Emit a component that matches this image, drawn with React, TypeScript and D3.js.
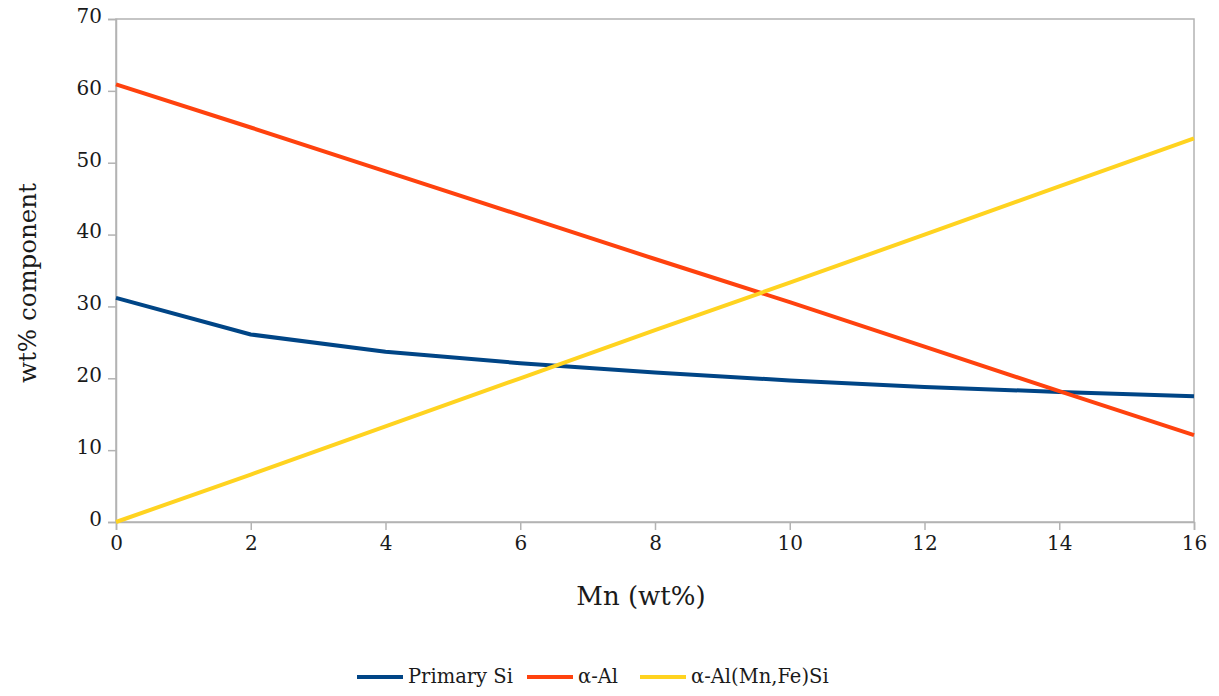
import React, { useEffect, useRef } from "react";
import * as d3 from "d3";

// Mn content (wt%) and resulting phase fractions (wt%)
const mnContent = [0, 2, 4, 6, 8, 10, 12, 14, 16];
const primarySi = [31.2, 26.1, 23.7, 22.1, 20.8, 19.7, 18.8, 18.1, 17.5];
const alphaAl = [60.9, 54.9, 48.8, 42.7, 36.6, 30.6, 24.4, 18.2, 12.1];
const alphaAlMnFeSi = [0, 6.6, 13.3, 20.0, 26.7, 33.3, 40.0, 46.7, 53.4];

const xTicks = [0, 2, 4, 6, 8, 10, 12, 14, 16];
const yTicks = [0, 10, 20, 30, 40, 50, 60, 70];

const seriesNames = ["Primary Si", "α-Al", "α-Al(Mn,Fe)Si"];
const seriesColors = ["#004586", "#ff420e", "#ffd320"];

const W = 1219;
const H = 696;
const FONT = "'DejaVu Serif', serif";
const TEXT = "#1a1a1a";

export default function App() {
  const ref = useRef<SVGSVGElement | null>(null);

  useEffect(() => {
    const svg = d3.select(ref.current);
    svg.selectAll("*").remove();

    const left = 116, right = 1194, top = 19, bottom = 522;
    const x = d3.scaleLinear().domain([0, 16]).range([left, right]);
    const y = d3.scaleLinear().domain([0, 70]).range([bottom, top]);
    const axisColor = "#b3b3b3";

    // plot frame
    svg.append("rect")
      .attr("x", left).attr("y", top)
      .attr("width", right - left).attr("height", bottom - top)
      .attr("fill", "none").attr("stroke", axisColor).attr("stroke-width", 1.5);

    // y axis
    const yAxis = svg.append("g").attr("transform", `translate(${left},0)`)
      .call(d3.axisLeft(y).tickValues(yTicks).tickSize(8).tickPadding(6).tickFormat(d3.format("d")));
    yAxis.select(".domain").attr("stroke", axisColor).attr("stroke-width", 1.5);
    yAxis.selectAll(".tick line").attr("stroke", axisColor).attr("stroke-width", 1.5);
    yAxis.selectAll(".tick text")
      .style("font-family", FONT).style("font-size", "20px").attr("fill", TEXT)
      .attr("dy", "0.17em");

    // x axis
    const xAxis = svg.append("g").attr("transform", `translate(0,${bottom})`)
      .call(d3.axisBottom(x).tickValues(xTicks).tickSize(8).tickPadding(6).tickFormat(d3.format("d")));
    xAxis.select(".domain").attr("stroke", axisColor).attr("stroke-width", 1.5);
    xAxis.selectAll(".tick line").attr("stroke", axisColor).attr("stroke-width", 1.5);
    xAxis.selectAll(".tick text")
      .style("font-family", FONT).style("font-size", "20px").attr("fill", TEXT);

    // axis titles
    svg.append("text")
      .attr("x", 641).attr("y", 605)
      .attr("text-anchor", "middle")
      .style("font-family", FONT).style("font-size", "26px").attr("fill", TEXT)
      .text("Mn (wt%)");
    svg.append("text")
      .attr("transform", `translate(36,${283}) rotate(-90)`)
      .attr("text-anchor", "middle")
      .style("font-family", FONT).style("font-size", "24.5px").attr("fill", TEXT)
      .text("wt% component");

    // series lines
    const data = [primarySi, alphaAl, alphaAlMnFeSi];
    const line = d3.line<number>()
      .x((_, i) => x(mnContent[i]))
      .y((d) => y(d));
    data.forEach((vals, i) => {
      svg.append("path")
        .attr("d", line(vals) as string)
        .attr("fill", "none")
        .attr("stroke", seriesColors[i])
        .attr("stroke-width", 4)
        .attr("stroke-linejoin", "round");
    });

    // legend
    const legendY = 677;
    const legendX = [357, 527, 640];
    seriesNames.forEach((name, i) => {
      const g = svg.append("g").attr("transform", `translate(${legendX[i]},${legendY})`);
      g.append("line").attr("x1", 0).attr("x2", 46).attr("y1", 0).attr("y2", 0)
        .attr("stroke", seriesColors[i]).attr("stroke-width", 4);
      g.append("text").attr("x", 51).attr("y", 0).attr("dy", "0.33em")
        .style("font-family", FONT).style("font-size", "19.5px").attr("fill", TEXT)
        .text(name);
    });
  }, []);

  return (
    <svg
      ref={ref}
      width={W}
      height={H}
      style={{ position: "absolute", left: 0, top: 0, background: "#fff" }}
    />
  );
}
